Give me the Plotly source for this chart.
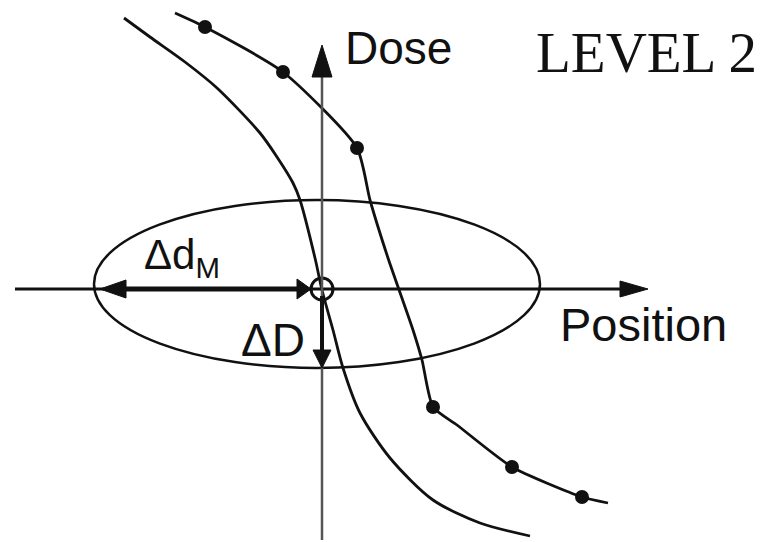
import plotly.graph_objects as go

# Skizze im Pixelraster 768 x 542 (y nach unten)
W, H = 768, 542

# Kurve ohne Messpunkte (Referenz)
kurve1_x = [124, 150, 185, 217, 260, 277, 293, 300, 315, 322, 333, 343, 360, 390, 433, 480, 530]
kurve1_y = [18, 37, 62, 88, 133, 157, 183, 200, 258, 290, 330, 368, 413, 458, 500, 523, 536]

# Kurve mit Messpunkten (verschoben)
kurve2_x = [175, 205, 283, 357, 370, 388, 413, 422, 433, 457, 512, 582, 608]
kurve2_y = [13, 27, 72, 148, 200, 258, 330, 360, 407, 425, 467, 497, 503]
punkte_x = [205, 283, 357, 433, 512, 582]
punkte_y = [27, 72, 148, 407, 467, 497]

# Ellipse (Toleranzbereich)
ellipse = dict(x0=94, x1=540, y0=200, y1=368)
kreis = dict(x0=311, x1=333, y0=278, y1=300)

# Achsen und Pfeile: (x0, y0, x1, y1, Breite, Farbe)
linien = [
    (15, 289, 622, 289, 3, "#111"),      # Position-Achse
    (322, 540, 322, 72, 2.5, "#555"),    # Dose-Achse
    (122, 289, 300, 289, 5, "#111"),     # Delta d_M
    (322, 296, 322, 352, 4, "#111"),     # Delta D
]
# Pfeilspitzen: (Spitze x, Spitze y, Richtung, Länge, halbe Breite, Farbe)
spitzen = [
    (648, 289, "r", 28, 8, "#111"),
    (322, 45, "u", 32, 10, "#111"),
    (100, 289, "l", 26, 9, "#111"),
    (311, 289, "r", 14, 10, "#111"),
    (322, 368, "d", 18, 9, "#111"),
]


def spitze_pfad(tx, ty, d, l, b):
    if d == "r":
        pts = [(tx, ty), (tx - l, ty - b), (tx - l, ty + b)]
    elif d == "l":
        pts = [(tx, ty), (tx + l, ty - b), (tx + l, ty + b)]
    elif d == "u":
        pts = [(tx, ty), (tx - b, ty + l), (tx + b, ty + l)]
    else:
        pts = [(tx, ty), (tx - b, ty - l), (tx + b, ty - l)]
    return "M " + " L ".join(f"{x},{y}" for x, y in pts) + " Z"


fig = go.Figure()

fig.add_trace(go.Scatter(x=kurve1_x, y=kurve1_y, mode="lines",
                         line=dict(color="#111", width=2.8, shape="spline", smoothing=0.8),
                         hoverinfo="skip"))
fig.add_trace(go.Scatter(x=kurve2_x, y=kurve2_y, mode="lines",
                         line=dict(color="#111", width=2.8, shape="spline", smoothing=0.6),
                         hoverinfo="skip"))
fig.add_trace(go.Scatter(x=punkte_x, y=punkte_y, mode="markers",
                         marker=dict(color="#111", size=14), hoverinfo="skip"))

shapes = [
    dict(type="circle", xref="x", yref="y", **ellipse, line=dict(color="#111", width=2.5)),
    dict(type="circle", xref="x", yref="y", **kreis, line=dict(color="#111", width=3)),
]
for x0, y0, x1, y1, w, c in linien:
    shapes.append(dict(type="line", xref="x", yref="y", x0=x0, y0=y0, x1=x1, y1=y1,
                       line=dict(color=c, width=w)))
for tx, ty, d, l, b, c in spitzen:
    shapes.append(dict(type="path", xref="x", yref="y", path=spitze_pfad(tx, ty, d, l, b),
                       fillcolor=c, line=dict(color=c, width=1)))

sans = "Liberation Sans, Arial, sans-serif"
texte = [
    (398, 48, "Dose", sans, 46),
    (646, 52, "LEVEL 2", "Liberation Serif, Times New Roman, serif", 57),
    (643, 324, "Position", sans, 47),
    (182, 257, "Δd<sub>M</sub>", sans, 42),
    (273, 340, "ΔD", sans, 46),
]
annotations = [dict(x=x, y=y, xref="x", yref="y", text=t, showarrow=False,
                    font=dict(family=f, size=s, color="#111"))
               for x, y, t, f, s in texte]

fig.update_layout(
    width=W, height=H,
    margin=dict(l=0, r=0, t=0, b=0),
    showlegend=False,
    paper_bgcolor="white", plot_bgcolor="white",
    xaxis=dict(range=[0, W], visible=False, fixedrange=True),
    yaxis=dict(range=[H, 0], visible=False, fixedrange=True),
    shapes=shapes,
    annotations=annotations,
)

# Seitenrand des Browsers entfernen, damit das Raster 1:1 passt
fig.write_html("out.html", config={"displayModeBar": False},
               post_script="document.body.style.margin='0';document.body.style.overflow='hidden';")
